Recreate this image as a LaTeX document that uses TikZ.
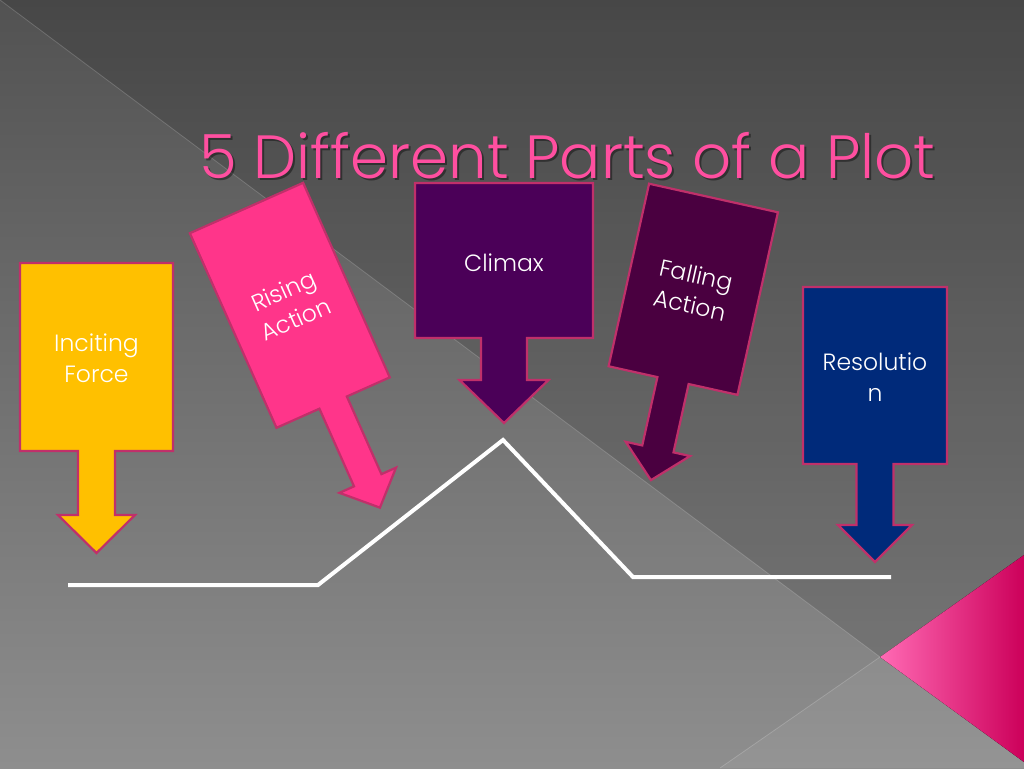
\documentclass[tikz,border=0pt]{standalone}
\usepackage{fontspec}
\setmainfont{Poppins}[UprightFont=* Light]
\definecolor{bordercol}{HTML}{C0306A}
\definecolor{incfill}{HTML}{FFC000}
\definecolor{risfill}{HTML}{FF358A}
\definecolor{climfill}{HTML}{4B0058}
\definecolor{fallfill}{HTML}{4A0040}
\definecolor{resfill}{HTML}{002A7A}
\definecolor{titlepink}{HTML}{FF4FA0}
\definecolor{bgtop}{HTML}{525252}
\definecolor{bgbot}{HTML}{8E8E8E}
\definecolor{pinklight}{HTML}{FF6AB4}
\definecolor{pinkmid}{HTML}{FF0A82}
\definecolor{pinkdark}{HTML}{CC005A}
\newcommand{\drawcallout}[7]{%
  \filldraw[callout, fill=#1] (-#2/2,0) -- (#2/2,0) -- (#2/2,#3) -- (#4/2,#3) -- (#4/2,#3+#5) -- (#6/2,#3+#5) -- (0,#3+#5+#7) -- (-#6/2,#3+#5) -- (-#4/2,#3+#5) -- (-#4/2,#3) -- (-#2/2,#3) -- cycle;}
\tikzset{
  callout/.style={draw=bordercol, line width=2.2pt, line join=miter},
  lbl/.style={text=white, align=center, font=\fontsize{23.5}{31}\selectfont, inner sep=0pt},
  plotline/.style={draw=white, line width=4pt},
  edgeline/.style={draw=white, opacity=0.18, line width=0.8pt}
}
\begin{document}
\begin{tikzpicture}[x=1pt,y=-1pt]
\useasboundingbox (0,0) rectangle (1024,768);
% background
\fill[top color=bgtop, bottom color=bgbot] (0,0) rectangle (1024,768);
\fill[black, opacity=0.13] (0,0) -- (1024,0) -- (1024,555) -- (880,657) -- cycle;
\fill[white, opacity=0.06] (880,657) -- (1024,762) -- (1024,768) -- (720,768) -- cycle;
\draw[edgeline] (0,0) -- (880,657);
\draw[edgeline] (880,657) -- (720,768);
\fill[left color=pinklight, middle color=pinkmid, right color=pinkdark] (880,657) -- (1024,555) -- (1024,762) -- cycle;
% title
\node[anchor=base, text=black, opacity=0.4, font=\fontsize{61}{61}\selectfont] (titleshadow) at (569.5,180) {5 Different Parts of a Plot};
\node[anchor=base, text=titlepink, font=\fontsize{61}{61}\selectfont] (title) at (567.5,178) {5 Different Parts of a Plot};
% callouts
\begin{scope}[shift={(96.5,263)}]
  \drawcallout{incfill}{153}{188}{37}{64}{77}{38}
  \node[lbl] (inc) at (0,95) {Inciting\\Force};
\end{scope}
\begin{scope}[shift={(246.5,208)}, rotate=24, transform shape]
  \drawcallout{risfill}{124}{213}{30}{85}{62}{30}
  \node[lbl] (ris) at (0,106) {Rising\\Action};
\end{scope}
\begin{scope}[shift={(504,183)}]
  \drawcallout{climfill}{178}{155}{46}{42}{89}{43}
  \node[lbl] (clim) at (0,80) {Climax};
\end{scope}
\begin{scope}[shift={(713.5,198)}, rotate=-12.5, transform shape]
  \drawcallout{fallfill}{132}{187}{32}{70}{66}{32}
  \node[lbl] (fall) at (0,94) {Falling\\Action};
\end{scope}
\begin{scope}[shift={(875,287)}]
  \drawcallout{resfill}{144}{177}{37}{61}{74}{37}
  \node[lbl] (res) at (0,90) {Resolutio\\n};
\end{scope}
% plot line
\coordinate (p1) at (68,585);
\coordinate (p2) at (318,585);
\coordinate (p3) at (503,440);
\coordinate (p4) at (633,577);
\coordinate (p5) at (891,577);
\draw[plotline] (p1) -- (p2) -- (p3) -- (p4) -- (p5);
\end{tikzpicture}
\end{document}
